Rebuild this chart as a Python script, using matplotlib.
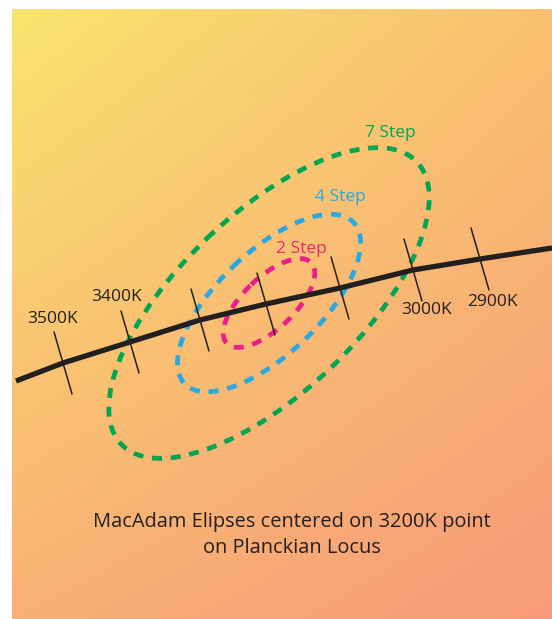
import numpy as np
import matplotlib.pyplot as plt
import matplotlib.colors as mcolors
from matplotlib.patches import Ellipse

plt.rcParams['font.family'] = ['Open Sans', 'DejaVu Sans']
plt.rcParams['lines.scale_dashes'] = False

# background gradient corners: top-left, top-right, bottom-left, bottom-right
corner_colors = ['#FAE46E', '#FAC070', '#F9B074', '#F79A7A']

# Planckian locus (pixel coords, y down)
locus_x = [16, 63, 130, 200, 266, 340, 413, 480, 552]
locus_y = [381, 363, 342, 320, 304, 288, 270, 259, 248]

# isotherm ticks sit on locus points 1..7
tick_temps = [3500, 3400, 3300, 3200, 3100, 3000, 2900]
labelled = [3500, 3400, 3000, 2900]
label_pos = {3500: (53, 319), 3400: (117, 297), 3000: (427, 310), 2900: (492, 302)}

# MacAdam ellipses around the 3200K point
steps = [7, 4, 2]
step_colors = ['#00A651', '#27AAE1', '#EC1C8C']
step_text_colors = ['#00A651', '#27AAE1', '#E62A6C']
step_label_pos = [(390, 133), (340, 197), (301, 249)]
center = (269, 303)
semi_major_1 = 29.2   # per step
semi_minor_1 = 12.8
tilt = 43.7

title = 'MacAdam Elipses centered on 3200K point\non Planckian Locus'

fig = plt.figure(figsize=(5.52, 6.19), dpi=100)
ax = fig.add_axes([0, 0, 1, 1])
ax.set_xlim(0, 552)
ax.set_ylim(619, 0)
ax.axis('off')

# gradient background
c = np.array([mcolors.to_rgb(h) for h in corner_colors])
u = np.linspace(0, 1, 300)[None, :, None]
v = np.linspace(0, 1, 300)[:, None, None]
img = (1 - v) * ((1 - u) * c[0] + u * c[1]) + v * ((1 - u) * c[2] + u * c[3])
ax.imshow(img, extent=[12, 552, 619, 9], aspect='auto', interpolation='bilinear', zorder=0)

ink = '#231F20'

# ellipses
for n, col in zip(steps, step_colors):
    e = Ellipse(center, width=2 * semi_major_1 * n, height=2 * semi_minor_1 * n,
                angle=-tilt, fill=False, edgecolor=col, linewidth=3.4,
                linestyle=(0, (7.2, 6.3)), zorder=2)
    ax.add_patch(e)

# locus
ax.plot(locus_x, locus_y, color=ink, linewidth=3.8, solid_capstyle='butt', zorder=3)

# ticks
d = np.array([18.0, 62.0])
d = d / np.linalg.norm(d) * 32
for i, t in enumerate(tick_temps):
    x0, y0 = locus_x[i + 1], locus_y[i + 1]
    ax.plot([x0 - d[0], x0 + d[0]], [y0 - d[1], y0 + d[1]], color=ink, linewidth=1.1, zorder=4)
    if t in labelled:
        lx, ly = label_pos[t]
        ax.text(lx, ly, f'{t}K', ha='center', va='center', fontsize=12.5, color=ink, zorder=5)

for n, col, (lx, ly) in zip(steps, step_text_colors, step_label_pos):
    ax.text(lx, ly, f'{n} Step', ha='center', va='center', fontsize=12.5, color=col, zorder=5)

ax.text(292, 535, title, ha='center', va='center', fontsize=14.4, color=ink,
        linespacing=1.45, zorder=5)

fig.savefig('out.png', dpi=100)
